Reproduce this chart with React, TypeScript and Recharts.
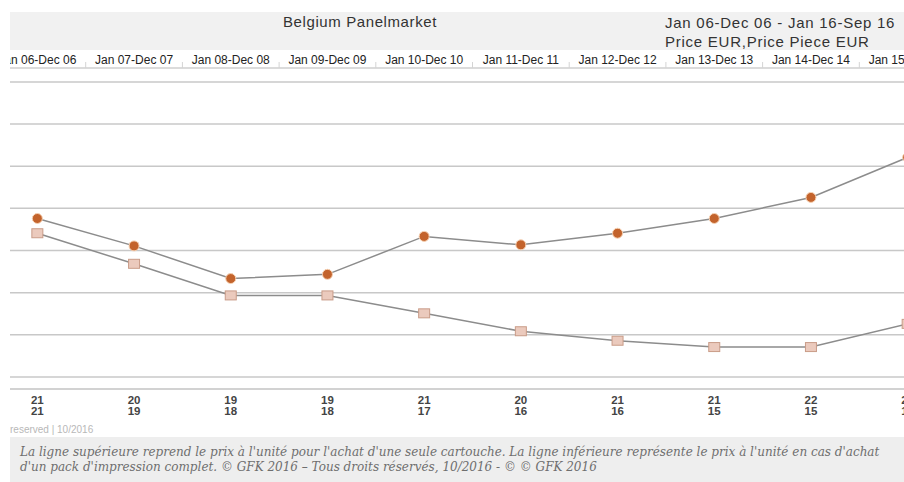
import { LineChart, Line, XAxis, YAxis, CartesianGrid } from 'recharts';

const PERIODS = [
  'Jan 06-Dec 06',
  'Jan 07-Dec 07',
  'Jan 08-Dec 08',
  'Jan 09-Dec 09',
  'Jan 10-Dec 10',
  'Jan 11-Dec 11',
  'Jan 12-Dec 12',
  'Jan 13-Dec 13',
  'Jan 14-Dec 14',
  'Jan 15-Dec 15',
];

// Price EUR (single cartridge) and Price Piece EUR (full pack)
const PRICE = [21.4, 20.1, 18.55, 18.75, 20.55, 20.15, 20.7, 21.4, 22.4, 24.3];
const PRICE_PIECE = [20.7, 19.25, 17.75, 17.75, 16.9, 16.05, 15.6, 15.3, 15.3, 16.4];

const GRID_TICKS = [13.88, 15.88, 17.88, 19.88, 21.88, 23.88, 25.88, 27.88];

const data = PERIODS.map((period, i) => ({ period, price: PRICE[i], piece: PRICE_PIECE[i] }));

const BAND = 96.7;
const PLOT_W = BAND * PERIODS.length;
const SANS = '"Liberation Sans", Arial, sans-serif';

function PeriodTick({ x, payload }: any) {
  return (
    <g>
      <text x={x} y={14} textAnchor="middle" fontSize={12} fill="#222" fontFamily={SANS}>
        {payload.value}
      </text>
      <line x1={x + BAND / 2} x2={x + BAND / 2} y1={12} y2={18} stroke="#d4d4d4" />
    </g>
  );
}

function ValueTick({ x, index }: any) {
  return (
    <g fontSize={11.5} fontWeight="bold" fill="#444" fontFamily={SANS} textAnchor="middle">
      <text x={x} y={354}>{Math.round(PRICE[index])}</text>
      <text x={x} y={365}>{Math.round(PRICE_PIECE[index])}</text>
    </g>
  );
}

function CircleDot({ cx, cy }: any) {
  return <circle cx={cx} cy={cy} r={5} fill="#c3632c" stroke="#f6d2b4" strokeWidth={1} />;
}

function SquareDot({ cx, cy }: any) {
  return <rect x={cx - 5.5} y={cy - 4.5} width={11} height={9} fill="#ebcabd" stroke="#c99c88" strokeWidth={1} />;
}

export default function App() {
  return (
    <div style={{ position: 'absolute', left: 0, top: 0, width: 904, height: 482, overflow: 'hidden', background: '#fff', fontFamily: SANS }}>
      <div style={{ position: 'absolute', left: 10, top: 12, width: 894, height: 38, background: '#f1f1f1' }} />
      <div style={{ position: 'absolute', left: 283, top: 14, fontSize: 15, lineHeight: '15px', letterSpacing: 0.6, color: '#333', whiteSpace: 'nowrap' }}>
        Belgium Panelmarket
      </div>
      <div style={{ position: 'absolute', left: 665, top: 14, fontSize: 15, lineHeight: '18.5px', letterSpacing: 0.75, color: '#333', whiteSpace: 'nowrap' }}>
        Jan 06-Dec 06 - Jan 16-Sep 16
        <br />
        Price EUR,Price Piece EUR
      </div>

      <div style={{ position: 'absolute', left: 10, top: 50, width: 894, height: 370, overflow: 'hidden' }}>
        <div style={{ marginLeft: -21.4 }}>
          <LineChart width={PLOT_W} height={370} data={data} margin={{ top: 0, right: 0, bottom: 0, left: 0 }}>
            <CartesianGrid vertical={false} stroke="#c8c8c8" strokeWidth={1.5} />
            <XAxis
              xAxisId="top"
              orientation="top"
              dataKey="period"
              height={18}
              padding={{ left: BAND / 2, right: BAND / 2 }}
              tickLine={false}
              axisLine={{ stroke: '#dcdcdc', strokeWidth: 1.5 }}
              tick={<PeriodTick />}
              interval={0}
            />
            <XAxis
              xAxisId="bottom"
              dataKey="period"
              height={31}
              padding={{ left: BAND / 2, right: BAND / 2 }}
              tickLine={false}
              axisLine={{ stroke: '#d0d0d0', strokeWidth: 1.5 }}
              tick={<ValueTick />}
              interval={0}
            />
            <YAxis hide domain={[13.31, 28.54]} ticks={GRID_TICKS} />
            <Line
              xAxisId="bottom"
              dataKey="piece"
              stroke="#8c8c8c"
              strokeWidth={1.5}
              dot={<SquareDot />}
              isAnimationActive={false}
            />
            <Line
              xAxisId="bottom"
              dataKey="price"
              stroke="#8c8c8c"
              strokeWidth={1.5}
              dot={<CircleDot />}
              isAnimationActive={false}
            />
          </LineChart>
        </div>
      </div>

      <div style={{ position: 'absolute', left: 10, top: 425, fontSize: 10, lineHeight: '10px', color: '#b8b8b8', whiteSpace: 'nowrap' }}>
        reserved | 10/2016
      </div>
      <div
        style={{
          position: 'absolute',
          left: 10,
          top: 437,
          width: 894,
          height: 50,
          background: '#eeeeee',
          color: '#6e6e6e',
          fontFamily: '"DejaVu Serif", serif',
          fontStyle: 'italic',
          fontSize: 12,
          lineHeight: '15px',
        }}
      >
        <div style={{ position: 'absolute', left: 10, top: 8, whiteSpace: 'nowrap' }}>
          La ligne supérieure reprend le prix à l'unité pour l'achat d'une seule cartouche. La ligne inférieure représente le prix à l'unité en cas d'achat
          <br />
          d'un pack d'impression complet. © GFK 2016 – Tous droits réservés, 10/2016 - © © GFK 2016
        </div>
      </div>
    </div>
  );
}
